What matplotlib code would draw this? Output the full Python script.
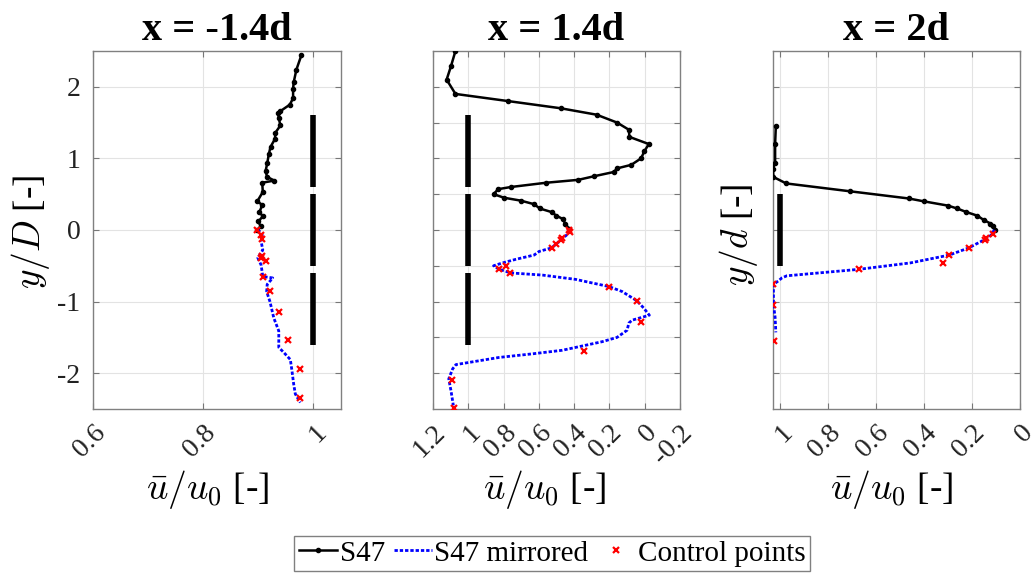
import numpy as np
import matplotlib
matplotlib.use("Agg")
import matplotlib.pyplot as plt

plt.rcParams["font.family"] = ["Liberation Serif", "DejaVu Serif"]
plt.rcParams["mathtext.fontset"] = "cm"
plt.rcParams["axes.unicode_minus"] = False

# x = -1.4d
p1_u = [0.978, 0.969, 0.964, 0.963, 0.963, 0.957, 0.940, 0.936, 0.937, 0.940, 0.931, 0.930,
        0.922, 0.919, 0.916, 0.913, 0.916, 0.929, 0.907, 0.908, 0.898, 0.907, 0.902, 0.908,
        0.900, 0.904, 0.898]
p1_y = [2.44, 2.24, 2.06, 1.97, 1.84, 1.75, 1.66, 1.64, 1.56, 1.46, 1.36, 1.27,
        1.16, 1.06, 0.93, 0.82, 0.74, 0.69, 0.66, 0.53, 0.40, 0.35, 0.25, 0.19,
        0.12, 0.05, 0.0]
p1_um = [0.899, 0.907, 0.905, 0.908, 0.899, 0.905, 0.908, 0.926, 0.916, 0.915, 0.921, 0.928,
         0.937, 0.937, 0.946, 0.958, 0.961, 0.964, 0.967, 0.976]
p1_ym = [0.01, -0.07, -0.16, -0.28, -0.39, -0.49, -0.65, -0.67, -0.76, -0.86, -1.0, -1.23,
         -1.41, -1.64, -1.71, -1.81, -1.97, -2.15, -2.29, -2.41]
p1_uc = [0.898, 0.905, 0.907, 0.907, 0.905, 0.913, 0.908, 0.921, 0.937, 0.953, 0.975, 0.975]
p1_yc = [0.0, -0.07, -0.12, -0.36, -0.39, -0.44, -0.65, -0.85, -1.15, -1.54, -1.94, -2.34]

# x = 1.4d
p2_u = [1.073, 1.098, 1.123, 1.073, 0.774, 0.477, 0.273, 0.157, 0.090, 0.087, -0.023, 0.002,
        0.021, 0.076, 0.157, 0.175, 0.288, 0.377, 0.558, 0.759, 0.831, 0.857, 0.797, 0.703,
        0.627, 0.595, 0.528, 0.501, 0.462, 0.452, 0.429]
p2_y = [2.50, 2.29, 2.10, 1.90, 1.80, 1.70, 1.61, 1.50, 1.40, 1.30, 1.20, 1.10,
        1.00, 0.91, 0.86, 0.81, 0.75, 0.70, 0.66, 0.60, 0.57, 0.50, 0.45, 0.41,
        0.36, 0.30, 0.25, 0.20, 0.15, 0.09, 0.02]
p2_um = [0.429, 0.433, 0.467, 0.490, 0.528, 0.599, 0.627, 0.731, 0.806, 0.857, 0.825, 0.759,
         0.580, 0.392, 0.298, 0.203, 0.128, 0.044, 0.006, -0.026, 0.072, 0.090, 0.100, 0.157,
         0.241, 0.354, 0.467, 0.637, 0.825, 1.070, 1.089, 1.111, 1.098, 1.085]
p2_ym = [0.0, -0.05, -0.12, -0.17, -0.25, -0.30, -0.35, -0.41, -0.46, -0.50, -0.55, -0.60,
         -0.63, -0.69, -0.74, -0.79, -0.86, -0.99, -1.09, -1.19, -1.26, -1.30, -1.40, -1.50,
         -1.56, -1.62, -1.68, -1.73, -1.78, -1.88, -1.94, -2.08, -2.25, -2.45]
p2_uc = [0.429, 0.426, 0.467, 0.477, 0.501, 0.528, 0.784, 0.825, 0.765, 0.203, 0.044, 0.019,
         0.345, 1.094, 1.083]
p2_yc = [0.0, -0.03, -0.11, -0.14, -0.19, -0.25, -0.50, -0.54, -0.60, -0.79, -0.99, -1.29,
         -1.69, -2.09, -2.49]

# x = 2d
p3_u = [1.018, 1.021, 1.021, 1.030, 1.028, 0.975, 0.708, 0.464, 0.401, 0.300, 0.262, 0.223,
        0.178, 0.151, 0.123, 0.112, 0.106]
p3_y = [1.45, 1.20, 0.94, 0.85, 0.74, 0.65, 0.54, 0.44, 0.40, 0.34, 0.30, 0.25,
        0.20, 0.14, 0.09, 0.05, 0.0]
p3_um = [0.106, 0.123, 0.144, 0.185, 0.213, 0.262, 0.294, 0.457, 0.673, 0.972, 0.993, 1.007,
         1.028, 1.028, 1.021, 1.018]
p3_ym = [0.0, -0.08, -0.13, -0.20, -0.25, -0.31, -0.35, -0.46, -0.55, -0.64, -0.67, -0.71,
         -0.76, -1.04, -1.22, -1.43]
p3_uc = [0.112, 0.140, 0.144, 0.213, 0.294, 0.322, 0.673, 1.028, 1.030, 1.024]
p3_yc = [-0.06, -0.11, -0.14, -0.25, -0.35, -0.46, -0.55, -0.76, -1.05, -1.55]

# rotor segments drawn at u = 1
bars_wide = [(0.6, 1.6), (-0.5, 0.5), (-1.6, -0.6)]
bars_narrow = [(-0.5, 0.5)]

titles = ["x = -1.4d", "x = 1.4d", "x = 2d"]
xticks_list = [[0.6, 0.8, 1], [1.2, 1, 0.8, 0.6, 0.4, 0.2, 0, -0.2], [1, 0.8, 0.6, 0.4, 0.2, 0]]
xtlabels_list = [["0.6", "0.8", "1"], ["1.2", "1", "0.8", "0.6", "0.4", "0.2", "0", "-0.2"],
                 ["1", "0.8", "0.6", "0.4", "0.2", "0"]]
xlims = [(0.6, 1.05), (1.2, -0.2), (1.03, 0.0)]

fig = plt.figure(figsize=(10.36, 5.74), dpi=100)
positions = [[0.0898, 0.2875, 0.2394, 0.6237],
             [0.4180, 0.2875, 0.2384, 0.6237],
             [0.7461, 0.2875, 0.2384, 0.6237]]
xlabel_x = [0.46, 0.453, 0.48]
data = [(p1_u, p1_y, p1_um, p1_ym, p1_uc, p1_yc, bars_wide),
        (p2_u, p2_y, p2_um, p2_ym, p2_uc, p2_yc, bars_wide),
        (p3_u, p3_y, p3_um, p3_ym, p3_uc, p3_yc, bars_narrow)]

handles = None
for i, ax_pos in enumerate(positions):
    ax = fig.add_axes(ax_pos)
    u, y, um, ym, uc, yc, bars = data[i]
    for b in bars:
        ax.plot([1, 1], list(b), color="black", lw=4, solid_capstyle="butt", zorder=2)
    h1, = ax.plot(u, y, "-", color="black", lw=1.8, marker=".", ms=6, zorder=3, label="S47")
    h2, = ax.plot(um, ym, color="blue", lw=2, ls=(0, (1.2, 0.7)), zorder=3, label="S47 mirrored")
    h3, = ax.plot(uc, yc, "x", color="red", ms=5, mew=1.6, ls="none", zorder=4, label="Control points")
    handles = [h1, h2, h3]

    ax.set_xlim(xlims[i])
    ax.set_ylim(-2.5, 2.5)
    ax.set_xticks(xticks_list[i])
    ax.set_xticklabels(xtlabels_list[i], rotation=45, ha="right", va="top",
                       rotation_mode="anchor", fontsize=20)
    if i == 1:
        ax.set_yticks(np.arange(-2, 2.01, 0.5))
    else:
        ax.set_yticks([-2, -1, 0, 1, 2])
    if i == 0:
        ax.set_yticklabels(["-2", "-1", "0", "1", "2"], fontsize=20)
    else:
        ax.set_yticklabels([])
    ax.tick_params(direction="in", top=True, right=True, length=4, color="#777777",
                   labelcolor="#222222", pad=9)
    ax.tick_params(axis="x", pad=8)
    ax.grid(True, color="#e3e3e3", lw=0.8)
    ax.set_axisbelow(True)
    for s in ax.spines.values():
        s.set_color("#808080")
        s.set_linewidth(1.0)
    ax.set_title(titles[i], fontsize=29, fontweight="bold", pad=8)
    ax.set_xlabel(r"$\bar{u}/u_0$ [-]", fontsize=27)
    ax.xaxis.set_label_coords(xlabel_x[i], -0.165)
    if i == 0:
        ax.set_ylabel(r"$y/D$ [-]", fontsize=27)
        ax.yaxis.set_label_coords(-0.165, 0.494)
    if i == 2:
        ax.set_ylabel(r"$y/d$ [-]", fontsize=27)
        ax.yaxis.set_label_coords(-0.053, 0.486)

fig.legend(handles, ["S47", "S47 mirrored", "Control points"], loc="lower center",
           bbox_to_anchor=(0.533, -0.005), ncol=3, fontsize=21, frameon=True, fancybox=False,
           edgecolor="#808080", handlelength=1.3, handletextpad=0.1, columnspacing=0.3,
           borderpad=0.15, borderaxespad=0.2, numpoints=1, framealpha=1)

fig.savefig("out.png", dpi=100)
